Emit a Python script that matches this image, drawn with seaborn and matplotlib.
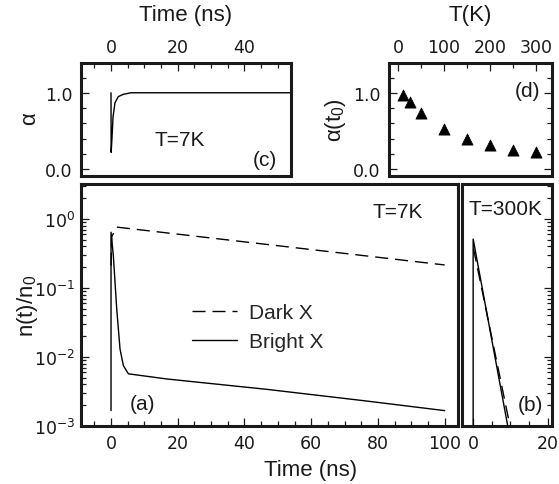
import matplotlib
matplotlib.use("Agg")
import matplotlib.pyplot as plt
from matplotlib.ticker import MultipleLocator, FixedLocator, LogLocator, NullFormatter, FormatStrFormatter
import numpy as np
import pandas as pd
import seaborn as sns

# ---- (c) alpha(t) at 7 K ----
c_time = [0.0, 0.05, 0.4, 0.6, 1.2, 2.2, 3.7, 6.0, 54.0]
c_alpha = [1.0, 0.22, 0.49, 0.68, 0.87, 0.95, 0.98, 1.0, 1.0]

# ---- (d) alpha(t0) vs temperature ----
d_temp = [10, 25, 50, 100, 150, 200, 250, 300]
d_alpha0 = [0.97, 0.88, 0.74, 0.53, 0.40, 0.31, 0.25, 0.22]

# ---- (a) populations at 7 K ----
a_bright_t = [0.0, 0.0, 0.7, 1.7, 2.7, 3.7, 5.2, 16.7, 46.6, 76.6, 100.0]
a_bright_n = [1.67e-3, 0.64, 0.29, 0.05, 0.013, 7.5e-3, 5.7e-3, 4.8e-3, 3.4e-3, 2.3e-3, 1.67e-3]
a_dark_t = [0.0, 0.2, 1.7, 100.0]
a_dark_n = [0.21, 0.55, 0.76, 0.215]

# ---- (b) populations at 300 K ----
b_bright_t = [0.0, 0.0, 9.3]
b_bright_n = [1e-3, 0.51, 1e-3]
b_dark_t = [0.1, 9.9]
b_dark_n = [0.37, 1e-3]

series_order = ["Dark X", "Bright X"]
line_dashes = {"Dark X": (9.4, 5.0), "Bright X": ""}

INK = "#1a1a1a"
FAMILY = ["Liberation Sans", "DejaVu Sans"]

sns.set_theme(style="ticks")

W, H = 559, 485
fig = plt.figure(figsize=(W / 100, H / 100), dpi=100)


def rect(left, top, right, bottom):
    return [left / W, 1 - bottom / H, (right - left) / W, (bottom - top) / H]


ax_c = fig.add_axes(rect(81, 64, 291, 177))
ax_d = fig.add_axes(rect(389, 64, 552, 177))
ax_a = fig.add_axes(rect(81, 185, 458, 427))
ax_b = fig.add_axes(rect(462, 185, 552, 427))

txt_kw = dict(fontsize=15, color=INK, family=FAMILY)
lab_kw = dict(fontsize=16, color=INK, family=FAMILY)


def style_frame(ax):
    for spine in ax.spines.values():
        spine.set_linewidth(2.2)
        spine.set_edgecolor(INK)
    ax.tick_params(which="both", direction="in", color=INK, labelcolor=INK,
                   width=0.9, labelsize=12.5)
    ax.tick_params(which="major", length=6)
    ax.tick_params(which="minor", length=3.5)


# ---------- panel (c) ----------
df_c = pd.DataFrame({"time": c_time, "alpha": c_alpha})
sns.lineplot(data=df_c, x="time", y="alpha", ax=ax_c, color="black", lw=1.0,
             sort=False, estimator=None)
ax_c.set_xlim(-9, 54)
ax_c.set_ylim(-0.09, 1.39)
ax_c.xaxis.set_major_locator(FixedLocator([0, 20, 40]))
ax_c.xaxis.set_minor_locator(MultipleLocator(5))
ax_c.yaxis.set_major_locator(FixedLocator([0.0, 1.0]))
ax_c.yaxis.set_minor_locator(MultipleLocator(0.2))
ax_c.yaxis.set_major_formatter(FormatStrFormatter("%.1f"))
ax_c.set_xlabel("Time (ns)", **lab_kw)
ax_c.xaxis.set_label_position("top")
ax_c.set_ylabel("α", **lab_kw)
style_frame(ax_c)
ax_c.tick_params(axis="x", which="both", top=True, bottom=False, labeltop=True,
                 labelbottom=False, pad=5)
ax_c.tick_params(axis="y", which="both", left=True, right=False, pad=6)
ax_c.text(0.471, 0.327, "T=7K", transform=ax_c.transAxes, ha="center", va="center", **txt_kw)
ax_c.text(0.935, 0.15, "(c)", transform=ax_c.transAxes, ha="right", va="center", **txt_kw)

# ---------- panel (d) ----------
df_d = pd.DataFrame({"T": d_temp, "alpha0": d_alpha0})
sns.scatterplot(data=df_d, x="T", y="alpha0", ax=ax_d, marker="^", color="black",
                s=65, edgecolor="black", linewidth=0.5)
ax_d.set_xlim(-20, 335)
ax_d.set_ylim(-0.09, 1.39)
ax_d.xaxis.set_major_locator(FixedLocator([0, 100, 200, 300]))
ax_d.xaxis.set_minor_locator(MultipleLocator(50))
ax_d.yaxis.set_major_locator(FixedLocator([0.0, 1.0]))
ax_d.yaxis.set_minor_locator(MultipleLocator(0.2))
ax_d.yaxis.set_major_formatter(FormatStrFormatter("%.1f"))
ax_d.set_xlabel("T(K)", **lab_kw)
ax_d.xaxis.set_label_position("top")
ax_d.set_ylabel(r"α(t$_\mathregular{0}$)", **lab_kw)
style_frame(ax_d)
ax_d.tick_params(axis="x", which="both", top=True, bottom=False, labeltop=True,
                 labelbottom=False, pad=5)
ax_d.tick_params(axis="y", which="both", left=True, right=True, labelright=False, pad=6)
ax_d.text(0.926, 0.761, "(d)", transform=ax_d.transAxes, ha="right", va="center", **txt_kw)

# ---------- panel (a) ----------
df_a = pd.concat([
    pd.DataFrame({"time": a_dark_t, "n": a_dark_n, "exciton": "Dark X"}),
    pd.DataFrame({"time": a_bright_t, "n": a_bright_n, "exciton": "Bright X"}),
], ignore_index=True)
sns.lineplot(data=df_a, x="time", y="n", style="exciton", style_order=series_order,
             dashes=line_dashes, color="black", lw=1.0, sort=False, estimator=None,
             ax=ax_a)
ax_a.set_yscale("log")
ax_a.set_xlim(-9, 104)
ax_a.set_ylim(1e-3, 3.2)
ax_a.xaxis.set_major_locator(MultipleLocator(20))
ax_a.xaxis.set_minor_locator(MultipleLocator(5))
ax_a.yaxis.set_major_locator(LogLocator(base=10, numticks=10))
ax_a.yaxis.set_minor_locator(LogLocator(base=10, subs=np.arange(2, 10), numticks=20))
ax_a.yaxis.set_minor_formatter(NullFormatter())
ax_a.set_xlabel("Time (ns)", **lab_kw)
ax_a.set_ylabel(r"n(t)/n$_\mathregular{0}$", **lab_kw)
style_frame(ax_a)
ax_a.tick_params(axis="x", which="both", top=False, bottom=True, pad=6)
ax_a.tick_params(axis="y", which="both", left=True, right=False, pad=4)
handles, labels = ax_a.get_legend_handles_labels()
for h in handles:
    h.set_color("black")
    h.set_linewidth(1.0)
ax_a.legend(handles, labels, loc="center left", bbox_to_anchor=(0.294, 0.409),
            frameon=False, prop={"family": FAMILY, "size": 15},
            handlelength=2.15, handletextpad=0.6,
            labelspacing=0.5, borderpad=0, borderaxespad=0)
ax_a.text(0.907, 0.888, "T=7K", transform=ax_a.transAxes, ha="right", va="center", **txt_kw)
ax_a.text(0.13, 0.095, "(a)", transform=ax_a.transAxes, ha="left", va="center", **txt_kw)

# ---------- panel (b) ----------
df_b = pd.concat([
    pd.DataFrame({"time": b_dark_t, "n": b_dark_n, "exciton": "Dark X"}),
    pd.DataFrame({"time": b_bright_t, "n": b_bright_n, "exciton": "Bright X"}),
], ignore_index=True)
sns.lineplot(data=df_b, x="time", y="n", style="exciton", style_order=series_order,
             dashes=line_dashes, color="black", lw=1.0, sort=False, estimator=None,
             legend=False, ax=ax_b)
ax_b.set_yscale("log")
ax_b.set_xlim(-3, 21.2)
ax_b.set_ylim(1e-3, 3.2)
ax_b.xaxis.set_major_locator(MultipleLocator(20))
ax_b.xaxis.set_minor_locator(MultipleLocator(5))
ax_b.yaxis.set_major_locator(LogLocator(base=10, numticks=10))
ax_b.yaxis.set_minor_locator(LogLocator(base=10, subs=np.arange(2, 10), numticks=20))
ax_b.set_xlabel("")
ax_b.set_ylabel("")
style_frame(ax_b)
ax_b.tick_params(axis="x", which="both", top=False, bottom=True, pad=6)
ax_b.tick_params(axis="y", which="both", left=False, right=True, labelleft=False,
                 labelright=False)
ax_b.text(0.889, 0.897, "T=300K", transform=ax_b.transAxes, ha="right", va="center", **txt_kw)
ax_b.text(0.9, 0.087, "(b)", transform=ax_b.transAxes, ha="right", va="center", **txt_kw)

# ---------- axis label placement ----------
label_spots = [
    (ax_c.xaxis, 0.5, 1.425),
    (ax_d.xaxis, 0.5, 1.425),
    (ax_c.yaxis, -0.243, 0.52),
    (ax_d.yaxis, -0.331, 0.5),
    (ax_a.yaxis, -0.141, 0.5),
    (ax_a.xaxis, 0.61, -0.178),
]
for axis, x, y in label_spots:
    axis.set_label_coords(x, y)
    axis.label.set_ha("center")
    axis.label.set_va("center")

fig.savefig("out.png", dpi=100)
